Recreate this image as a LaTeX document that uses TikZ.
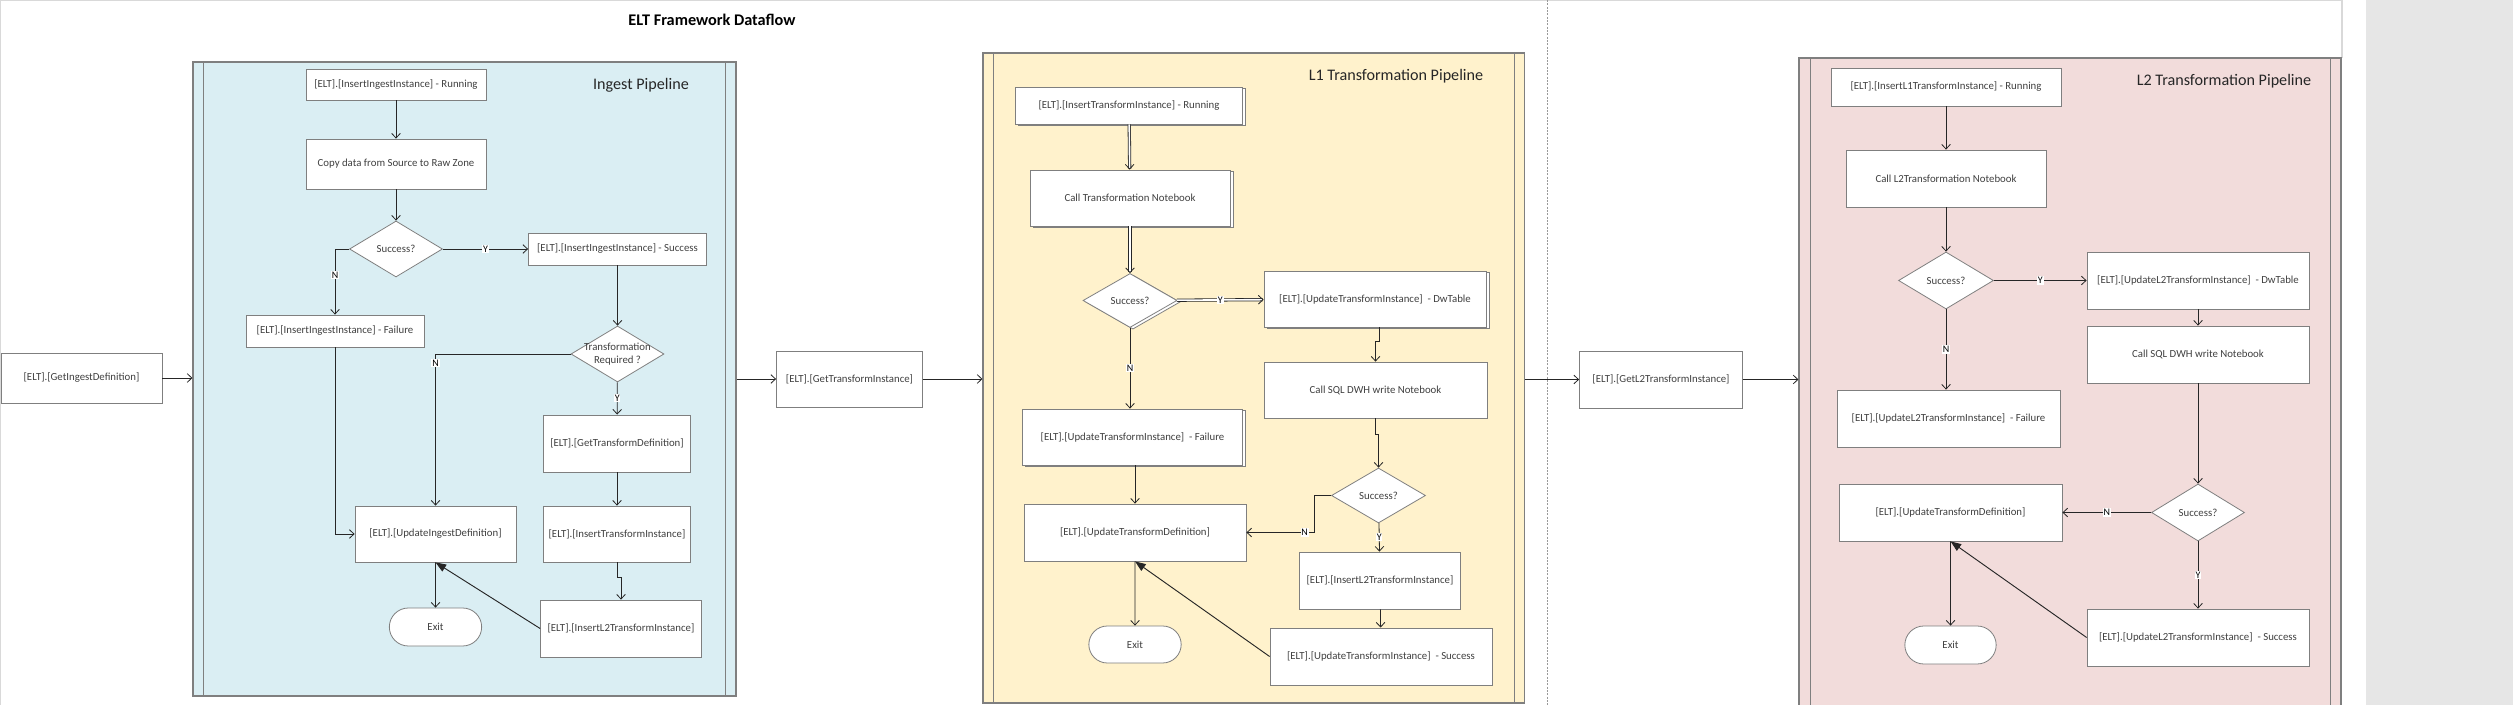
\documentclass[tikz,border=0pt]{standalone}
\usepackage{fontspec}
\setmainfont{Carlito}
\usetikzlibrary{arrows.meta,shapes.geometric,shapes.misc,shadows,calc}
\definecolor{ingfill}{HTML}{DAEEF3}
\definecolor{lonefill}{HTML}{FFF2CC}
\definecolor{ltwofill}{HTML}{F2DCDB}
\definecolor{edgegray}{HTML}{7F7F7F}
\definecolor{linedark}{HTML}{262626}
\definecolor{textgray}{HTML}{404040}
\definecolor{pagegray}{HTML}{E6E6E6}
\tikzset{
	sz/.style 2 args={minimum width=#1*0.75pt, minimum height=#2*0.75pt},
	box/.style={draw=edgegray, line width=0.6pt, fill=white, text=textgray, font=\fontsize{8.1}{9.5}\selectfont, inner sep=1pt},
	sbox/.style={box, copy shadow={shadow xshift=2.2pt, shadow yshift=-1.2pt}},
	decide/.style={box, diamond, inner sep=0pt},
	sdecide/.style={decide, copy shadow={shadow xshift=2.2pt, shadow yshift=-1.2pt}},
	term/.style={box, rounded rectangle},
	pool/.style={draw=edgegray, line width=0.8pt},
	lane/.style={draw=edgegray, line width=0.6pt},
	pooltitle/.style={font=\fontsize{12.1}{14}\selectfont, text=black!85},
	flow/.style={draw=linedark, line width=0.6pt, -{Straight Barb[length=3.5pt,width=6.5pt]}},
	dflow/.style={draw=linedark, line width=0.6pt, double=white, double distance=1.2pt, -{Straight Barb[length=3.5pt,width=6.5pt]}},
	retflow/.style={draw=linedark, line width=0.7pt, -{Triangle[length=8pt,width=6pt]}},
	lbl/.style={fill=white, inner sep=0.6pt, font=\fontsize{7.5}{8}\selectfont, text=black}
}
\begin{document}
\begin{tikzpicture}[x=0.75pt, y=-0.75pt]
	\useasboundingbox (0,0) rectangle (2513,705);
	\fill[white] (0,0) rectangle (2366,705);
	\fill[pagegray] (2366,0) rectangle (2513,705);
	\draw[black!15, line width=0.8pt] (0,0.5) -- (2342,0.5) -- (2342,58);
	\draw[black!15, line width=0.6pt] (0.5,0) -- (0.5,705);
	\draw[black!40, line width=0.4pt, dash pattern=on 1.5pt off 1pt] (1547,0) -- (1547,705);

	\node[font=\bfseries\fontsize{12.2}{14}\selectfont] (mainTitle) at (712,20) {ELT Framework Dataflow};

	\node[pool, fill=ingfill, sz={543}{634}] (ingPool) at (464.5,379) {};
	\node[pool, fill=lonefill, sz={541.5}{650}] (lonePool) at (1253.75,378) {};
	\node[pool, fill=ltwofill, sz={542}{652}] (ltwoPool) at (2070,384) {};
	\draw[lane] ($(ingPool.north west)+(11,0)$) -- ($(ingPool.south west)+(11,0)$);
	\draw[lane] ($(ingPool.north east)+(-11.5,0)$) -- ($(ingPool.south east)+(-11.5,0)$);
	\draw[lane] ($(lonePool.north west)+(11,0)$) -- ($(lonePool.south west)+(11,0)$);
	\draw[lane] ($(lonePool.north east)+(-10.5,0)$) -- ($(lonePool.south east)+(-10.5,0)$);
	\draw[lane] ($(ltwoPool.north west)+(12,0)$) -- ($(ltwoPool.south west)+(12,0)$);
	\draw[lane] ($(ltwoPool.north east)+(-11,0)$) -- ($(ltwoPool.south east)+(-11,0)$);

	\node[pooltitle] (ingTitle) at (641,85) {Ingest Pipeline};
	\node[pooltitle] (loneTitle) at (1396,76) {L1 Transformation Pipeline};
	\node[pooltitle] (ltwoTitle) at (2224,81) {L2 Transformation Pipeline};

	\node[box, sz={161}{50}] (getIng) at (81.5,378) {[ELT].[GetIngestDefinition]};
	\node[box, sz={146}{56}] (getTrf) at (849.5,379) {[ELT].[GetTransformInstance]};
	\node[box, sz={163}{57}] (getLtwo) at (1661,379.5) {[ELT].[GetL2TransformInstance]};

	\node[box, sz={180}{31}] (ingRun) at (396,84.5) {[ELT].[InsertIngestInstance] - Running};
	\node[box, sz={180}{50}] (ingCopy) at (396,164) {Copy data from Source to Raw Zone};
	\node[decide, sz={93}{56}] (ingOk) at (396,249) {Success?};
	\node[box, sz={178}{32}] (ingSucc) at (617.5,249) {[ELT].[InsertIngestInstance] - Success};
	\node[box, sz={178}{32}] (ingFail) at (335,331) {[ELT].[InsertIngestInstance] - Failure};
	\node[decide, sz={93}{56}, label={[font=\fontsize{8.1}{9.5}\selectfont, text=textgray, align=center]center:Transformation\\Required ?}] (ingTrf) at (617.5,354) {};
	\node[box, sz={147}{57}] (trfDef) at (617,443.5) {[ELT].[GetTransformDefinition]};
	\node[box, sz={147}{56}] (trfIns) at (617,534) {[ELT].[InsertTransformInstance]};
	\node[box, sz={161}{57}] (ingLtwo) at (621,628.5) {[ELT].[InsertL2TransformInstance]};
	\node[box, sz={161}{56}] (ingUpd) at (435.5,534) {[ELT].[UpdateIngestDefinition]};
	\node[term, sz={95}{38}] (ingExit) at (435.5,627) {Exit};

	\node[sbox, sz={227}{37}] (loneRun) at (1129,105.5) {[ELT].[InsertTransformInstance] - Running};
	\node[sbox, sz={200}{56}] (loneCall) at (1130,198) {Call Transformation Notebook};
	\node[sdecide, sz={94}{54}] (loneOk) at (1130,300.5) {Success?};
	\node[sbox, sz={222}{56}] (loneDw) at (1375,299) {[ELT].[UpdateTransformInstance]\ \ - DwTable};
	\node[box, sz={223}{56}] (loneSql) at (1375.5,390) {Call SQL DWH write Notebook};
	\node[decide, sz={94}{55}] (loneOkb) at (1378.5,495.5) {Success?};
	\node[sbox, sz={220}{56}] (loneFail) at (1132.5,437) {[ELT].[UpdateTransformInstance]\ \ - Failure};
	\node[box, sz={222}{57}] (loneUpd) at (1135,532.5) {[ELT].[UpdateTransformDefinition]};
	\node[box, sz={161}{57}] (loneLtwo) at (1380,580.5) {[ELT].[InsertL2TransformInstance]};
	\node[box, sz={222}{57}] (loneSucc) at (1381,656.5) {[ELT].[UpdateTransformInstance]\ \ - Success};
	\node[term, sz={95}{37}] (loneExit) at (1135,644.5) {Exit};

	\node[box, sz={230}{38}] (ltwoRun) at (1946,87) {[ELT].[InsertL1TransformInstance] - Running};
	\node[box, sz={200}{57}] (ltwoCall) at (1946,178.5) {Call L2Transformation Notebook};
	\node[decide, sz={95}{57}] (ltwoOk) at (1946,280.5) {Success?};
	\node[box, sz={222}{57}] (ltwoDw) at (2198,280.5) {[ELT].[UpdateL2TransformInstance]\ \ - DwTable};
	\node[box, sz={222}{57}] (ltwoSql) at (2198,354.5) {Call SQL DWH write Notebook};
	\node[decide, sz={93}{57}] (ltwoOkb) at (2198,512.5) {Success?};
	\node[box, sz={223}{57}] (ltwoFail) at (1948.5,418.5) {[ELT].[UpdateL2TransformInstance]\ \ - Failure};
	\node[box, sz={223}{57}] (ltwoUpd) at (1950.5,512.5) {[ELT].[UpdateTransformDefinition]};
	\node[box, sz={222}{57}] (ltwoSucc) at (2198,637.5) {[ELT].[UpdateL2TransformInstance]\ \ - Success};
	\node[term, sz={94}{38}] (ltwoExit) at (1950.5,645) {Exit};

	\draw[flow] (getIng.east) -- (getIng.east -| ingPool.west);
	\draw[flow] (ingPool.east |- getTrf.west) -- (getTrf.west);
	\draw[flow] (getTrf.east) -- (getTrf.east -| lonePool.west);
	\draw[flow] (lonePool.east |- getLtwo.west) -- (getLtwo.west);
	\draw[flow] (getLtwo.east) -- (getLtwo.east -| ltwoPool.west);

	\draw[flow] (ingRun) -- (ingCopy);
	\draw[flow] (ingCopy) -- (ingOk);
	\draw[flow] (ingOk) -- node[lbl]{Y} (ingSucc);
	\draw[flow] (ingOk.west) -| node[lbl, pos=0.7]{N} (ingFail.north);
	\draw[flow] (ingSucc) -- (ingTrf);
	\draw[flow] (ingTrf.west) -| node[lbl, pos=0.53]{N} (ingUpd.north);
	\draw[flow] (ingFail.south) |- (ingUpd.west);
	\draw[flow] (ingTrf) -- node[lbl]{Y} (trfDef);
	\draw[flow] (trfDef) -- (trfIns);
	\draw[flow] (trfIns.south) -- ++(0,15) -| (ingLtwo.north);
	\draw[flow] (ingUpd) -- (ingExit);
	\draw[retflow] (ingLtwo.west) -- (ingUpd.south);

	\draw[dflow] (loneRun) -- (loneCall);
	\draw[dflow] (loneCall) -- (loneOk);
	\draw[dflow] (loneOk) -- node[lbl]{Y} (loneDw);
	\draw[flow] (loneOk.south) -- node[lbl]{N} (loneOk.south |- loneFail.north);
	\draw[flow] ([xshift=3pt]loneDw.south) -- ++(0,14) -| (loneSql.north);
	\draw[flow] (loneSql.south) -- ++(0,16) -| (loneOkb.north);
	\draw[flow] (loneOkb.west) -- ++(-17,0) |- node[lbl, pos=0.57]{N} (loneUpd.east);
	\draw[flow] (loneOkb) -- node[lbl]{Y} (loneLtwo);
	\draw[flow] (loneLtwo) -- (loneSucc);
	\draw[flow] (loneUpd.north |- loneFail.south) -- (loneUpd.north);
	\draw[flow] (loneUpd) -- (loneExit);
	\draw[retflow] (loneSucc.west) -- (loneUpd.south);

	\draw[flow] (ltwoRun) -- (ltwoCall);
	\draw[flow] (ltwoCall) -- (ltwoOk);
	\draw[flow] (ltwoOk) -- node[lbl]{Y} (ltwoDw);
	\draw[flow] (ltwoOk.south) -- node[lbl]{N} (ltwoOk.south |- ltwoFail.north);
	\draw[flow] (ltwoDw) -- (ltwoSql);
	\draw[flow] (ltwoSql) -- (ltwoOkb);
	\draw[flow] (ltwoOkb) -- node[lbl]{N} (ltwoUpd);
	\draw[flow] (ltwoOkb) -- node[lbl]{Y} (ltwoSucc);
	\draw[flow] (ltwoUpd) -- (ltwoExit);
	\draw[retflow] (ltwoSucc.west) -- (ltwoUpd.south);
\end{tikzpicture}
\end{document}
